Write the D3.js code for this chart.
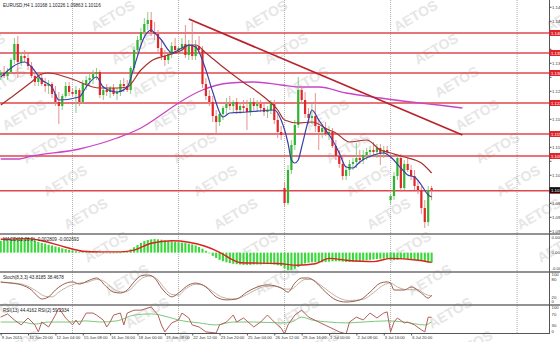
<!DOCTYPE html>
<html><head><meta charset="utf-8">
<script src="https://cdn.jsdelivr.net/npm/d3@7"></script>
<style>body{margin:0;background:#fff}svg{display:block;font-family:"Liberation Sans",Arial,sans-serif}</style>
</head><body>
<svg id="c" width="560" height="342"></svg>
<script>
// ---------------- DATA ----------------
const titleText = "EURUSD,H4  1.10168 1.10226 1.09863 1.10116";
const macdLabel = "MACD(12,26,9) -0.002809 -0.002693";
const stochLabel = "Stoch(8,3,3) 43.8185 38.4678";
const rsiLabel = "RSI(13) 44.4162  RSI(2) 59.2934";

const open = [1.12995,1.13045,1.12970,1.13070,1.13370,1.13770,1.13320,1.13470,1.13420,1.13220,
1.12970,1.12820,1.12920,1.12770,1.12720,1.12770,1.12520,1.12320,1.12220,1.12470,
1.12720,1.12570,1.12520,1.12620,1.12320,1.12770,1.12870,1.12920,1.13020,1.13070,
1.12495,1.12620,1.12570,1.12670,1.12520,1.12570,1.12770,1.12720,1.12620,1.13170,
1.13620,1.13870,1.14070,1.14270,1.14370,1.14070,1.14020,1.13670,1.13470,1.13370,
1.13520,1.13720,1.13620,1.13670,1.13770,1.13495,1.13745,1.13470,1.13720,1.13620,
1.12770,1.12470,1.12320,1.11970,1.11820,1.12020,1.12170,1.12270,1.12220,1.12320,
1.12120,1.12220,1.12170,1.12070,1.12320,1.12220,1.12270,1.12170,1.12070,1.12120,
1.12270,1.11870,1.11570,1.10170,1.09795,1.10620,1.11245,1.11745,1.12620,1.12370,
1.12020,1.11920,1.11970,1.11720,1.11570,1.11670,1.11520,1.11570,1.11220,1.10970,
1.10770,1.10470,1.10620,1.10770,1.10820,1.10920,1.10870,1.10995,1.11070,1.11120,
1.11070,1.11170,1.11045,1.11120,1.09870,1.09970,1.10470,1.10920,1.10170,1.10770,
1.10620,1.10470,1.10220,1.10120,1.09670,1.09320,1.10168];
const high = [1.13120,1.13220,1.13170,1.13420,1.13920,1.13970,1.13570,1.13620,1.13520,1.13320,
1.13070,1.13020,1.13070,1.12920,1.12870,1.12820,1.12720,1.12570,1.12520,1.12820,
1.12820,1.12670,1.12720,1.12670,1.12870,1.12970,1.13020,1.13120,1.13170,1.13120,
1.12720,1.12770,1.12720,1.12770,1.12670,1.12870,1.12920,1.12870,1.13220,1.13720,
1.13970,1.14170,1.14420,1.14570,1.14570,1.14320,1.14120,1.13870,1.13620,1.13570,
1.13820,1.13920,1.13720,1.13920,1.14245,1.13870,1.14320,1.13870,1.13970,1.13720,
1.12920,1.12620,1.12470,1.12120,1.12070,1.12220,1.12420,1.12470,1.12370,1.12420,
1.12320,1.12370,1.12370,1.12420,1.12420,1.12370,1.12370,1.12270,1.12220,1.12370,
1.12370,1.12020,1.11720,1.10320,1.10745,1.11370,1.11870,1.12945,1.12720,1.12570,
1.12170,1.12270,1.12545,1.11870,1.11770,1.11820,1.11720,1.11670,1.11370,1.11120,
1.10970,1.10720,1.10870,1.10920,1.11295,1.11120,1.11120,1.11170,1.11220,1.11320,
1.11270,1.11270,1.11220,1.11220,1.10020,1.10570,1.10995,1.11020,1.10870,1.10920,
1.10745,1.10620,1.10370,1.10220,1.09870,1.10220,1.10226];
const low = [1.12870,1.12920,1.12870,1.13020,1.13270,1.12920,1.13220,1.13320,1.13120,1.12920,
1.12720,1.12720,1.12720,1.12570,1.12520,1.12420,1.12220,1.11770,1.12120,1.12420,
1.12470,1.12470,1.12045,1.12220,1.12270,1.12620,1.12720,1.12770,1.12870,1.12420,
1.12370,1.12470,1.12420,1.12470,1.12370,1.12470,1.12570,1.12570,1.12520,1.13070,
1.13470,1.13720,1.13920,1.14120,1.13970,1.13870,1.13570,1.13370,1.13220,1.13270,
1.13420,1.13520,1.13520,1.13520,1.13420,1.13370,1.13370,1.13370,1.13520,1.12670,
1.12370,1.12220,1.11820,1.11545,1.11720,1.11870,1.12020,1.12120,1.12070,1.12020,
1.12020,1.12070,1.11620,1.11970,1.12120,1.12070,1.12070,1.11970,1.11920,1.12020,
1.11770,1.11420,1.11370,1.09695,1.09745,1.10520,1.11120,1.11670,1.12270,1.11920,
1.11770,1.11770,1.11570,1.11120,1.11420,1.11470,1.11370,1.11170,1.10870,1.10670,
1.10370,1.10370,1.10470,1.10620,1.10670,1.10770,1.10770,1.10870,1.10920,1.10970,
1.10920,1.10745,1.10920,1.10970,1.09770,1.09870,1.10370,1.10070,1.10120,1.10570,
1.10370,1.10120,1.10020,1.09520,1.09170,1.09220,1.09863];
const close = [1.13045,1.12970,1.13070,1.13370,1.13770,1.13320,1.13470,1.13420,1.13220,1.12970,
1.12820,1.12920,1.12770,1.12720,1.12770,1.12520,1.12320,1.12220,1.12470,1.12720,
1.12570,1.12520,1.12620,1.12320,1.12770,1.12870,1.12920,1.13020,1.13070,1.12495,
1.12620,1.12570,1.12670,1.12520,1.12570,1.12770,1.12720,1.12620,1.13170,1.13620,
1.13870,1.14070,1.14270,1.14370,1.14070,1.14020,1.13670,1.13470,1.13370,1.13520,
1.13720,1.13620,1.13670,1.13770,1.13495,1.13745,1.13470,1.13720,1.13620,1.12770,
1.12470,1.12320,1.11970,1.11820,1.12020,1.12170,1.12270,1.12220,1.12320,1.12120,
1.12220,1.12170,1.12070,1.12320,1.12220,1.12270,1.12170,1.12070,1.12120,1.12270,
1.11870,1.11570,1.11495,1.09795,1.10620,1.11245,1.11745,1.12620,1.12370,1.12020,
1.11920,1.11970,1.11720,1.11570,1.11670,1.11520,1.11570,1.11220,1.10970,1.10770,
1.10470,1.10620,1.10770,1.10820,1.10920,1.10870,1.10995,1.11070,1.11120,1.11070,
1.11170,1.11045,1.11120,1.11070,1.09970,1.10470,1.10920,1.10170,1.10770,1.10620,
1.10470,1.10220,1.10120,1.09670,1.09320,1.10120,1.10116];

// moving averages (bar index, price)
const maFastIdx = [0,7,9,12,15,17,23,25,28,30,34,37,39,42,44,45,47,49,50,53,55,57,60,62,65,67,72,80,82,84,85,86,87,88,90,91,93,95,97,99,101,103,105,109,112,114,117,119,121,123,125,126];
const maFast = [1.12945,1.13320,1.13195,1.12870,1.12695,1.12370,1.12445,1.12695,1.12945,1.12695,1.12570,1.12695,
1.13195,1.13945,1.14120,1.14045,1.13870,1.13620,1.13545,1.13670,1.13745,1.13695,1.13120,1.12570,
1.11945,1.12045,1.12070,1.12120,1.11870,1.11295,1.10870,1.10795,1.10870,1.11195,1.11870,1.12120,
1.11870,1.11620,1.11370,1.11045,1.10695,1.10670,1.10820,1.10995,1.11045,1.10945,1.10670,1.10495,
1.10445,1.10245,1.09995,1.09945];
const maSlowIdx = [0,4,9,12,14,20,29,34,37,41,44,49,53,55,57,60,65,70,77,81,83,87,91,96,98,102,107,111,114,118,123,126];
const maSlow = [1.12245,1.12495,1.12820,1.13020,1.13045,1.12920,1.12670,1.12670,1.12695,1.13120,1.13345,1.13495,
1.13620,1.13745,1.13745,1.13545,1.13195,1.12870,1.12445,1.12120,1.11870,1.11795,1.11820,1.11620,
1.11545,1.11320,1.11370,1.11120,1.11045,1.10945,1.10795,1.10545];
const maLongIdx = [0,5,9,23,34,41,49,52,59,67,74,82,88,93,101,111,120,128,135];
const maLong = [1.10895,1.10895,1.10970,1.11145,1.11420,1.11670,1.12120,1.12295,1.12620,1.12795,1.12820,1.12745,
1.12695,1.12695,1.12545,1.12420,1.12320,1.12245,1.12170];

// drawn objects
const levels = [1.14045,1.13545,1.13045,1.12295,1.11520,1.10970,1.10100];
const trendIdx = [55,135];
const trendPrice = [1.14395,1.11495];
const currentPrice = 1.10116;
const priceTicks = [1.1470,1.1435,1.1400,1.1365,1.1330,1.1295,1.1260,1.1225,1.1190,1.1155,1.1120,1.1085,1.1050,1.1015,1.0980,1.0945,1.0910];
const separatorIdx = [21,52,83,114,151];
const timeIdx = [0,8,16,24,32,40,48,56,64,72,80,88,96,104,112,120];
const timeLabels = ["9 Jun 2015","10 Jun 20:00","12 Jun 04:00","15 Jun 08:00","16 Jun 16:00","18 Jun 00:00","19 Jun 08:00","22 Jun 12:00","23 Jun 20:00","25 Jun 04:00","26 Jun 12:00","29 Jun 16:00","1 Jul 00:00","2 Jul 08:00","3 Jul 16:00","6 Jul 20:00"];

// MACD
const macdHist = [0.0033,0.0034,0.0035,
0.0037,0.0038,0.0039,0.0040,0.0040,0.0039,0.0038,
0.0034,0.0030,0.0027,0.0025,
0.0022,0.0020,0.0017,0.0015,0.0012,
0.0010,0.0008,0.0006,0.0004,0.0002,
0.0002,0.0003,0.0004,0.0004,0.0003,0.0001,0.0000,-0.0001,-0.0002,-0.0002,-0.0001,0.0000,0.0001,
0.0004,0.0009,0.0015,
0.0021,0.0027,0.0032,0.0035,0.0037,0.0038,0.0037,
0.0036,0.0034,0.0032,0.0031,0.0030,
0.0029,0.0028,0.0027,0.0025,0.0023,0.0020,0.0016,0.0011,0.0005,
-0.0002,-0.0009,-0.0015,-0.0020,-0.0024,-0.0027,-0.0029,
-0.0031,-0.0032,-0.0033,-0.0034,-0.0034,-0.0034,-0.0033,-0.0033,-0.0033,-0.0032,-0.0032,-0.0032,-0.0033,-0.0035,
-0.0037,-0.0044,-0.0049,-0.0048,-0.0045,
-0.0040,-0.0034,-0.0030,-0.0028,-0.0027,-0.0027,-0.0027,-0.0027,-0.0026,-0.0025,
-0.0024,-0.0024,-0.0024,-0.0025,-0.0026,-0.0026,-0.0025,-0.0024,-0.0023,-0.0022,-0.0021,-0.0020,-0.0019,-0.0018,-0.0017,-0.0017,-0.0017,
-0.0020,-0.0021,-0.0020,-0.0018,-0.0018,-0.0018,-0.0019,-0.0020,-0.0021,-0.0023,-0.0025,-0.0027,-0.0028];
const macdSigIdx = [0,8,13,19,24,29,35,39,44,50,55,60,64,68,70,81,87,92,96,101,109,114,122,126];
const macdSig = [0.0037,0.0039,0.0031,0.0015,0.0004,0.0002,0.0002,0.0007,0.0026,0.0033,0.0029,0.0017,0.0001,-0.0021,-0.0028,-0.0030,-0.0035,-0.0031,-0.0016,-0.0021,-0.0025,-0.0016,-0.0021,-0.0027];
const macdTicks = ["0.004900","0.00","-0.005100"];

// Stochastic
const stMainIdx = [0,3,6,9,11,12,14,16,18,21,23,26,28,31,33,35,37,39,41,43,45,47,49,50,52,55,57,60,63,66,69,72,75,78,82,84,86,88,90,92,95,98,101,105,108,111,113,114,115,118,120,123,125,126];
const stMain = [72,68,62,45,22,15,22,45,62,72,65,78,85,55,38,35,45,72,92,95,85,52,28,22,35,62,68,55,22,12,15,38,55,62,52,38,68,85,85,72,38,12,5,12,38,68,72,68,45,45,55,35,18,28];
const stSigIdx = [0,4,7,10,13,15,17,20,23,25,28,30,32,34,36,38,40,42,44,46,48,50,52,54,57,59,62,65,68,71,74,77,80,83,85,87,89,91,93,96,99,102,106,109,112,114,116,119,122,124,126];
const stSig = [70,68,62,45,24,22,38,58,68,70,80,75,58,42,38,48,72,88,92,78,50,30,28,48,64,62,40,20,15,24,42,56,58,48,48,66,80,80,66,40,18,10,14,36,62,68,55,46,46,32,24];

// RSI
const rsiFastIdx = [0,2,4,6,8,10,11,12,14,16,17,19,21,22,23,25,27,28,30,31,32,33,35,36,37,39,41,43,44,46,47,48,50,52,53,55,56,58,60,63,64,66,68,69,71,74,76,78,80,82,83,84,86,88,90,93,96,99,101,102,104,106,108,110,112,113,114,115,116,118,119,121,123,124,125,126];
const rsiFast = [60,71,50,33,57,33,9,43,26,67,91,57,33,50,33,74,74,67,50,26,43,67,74,33,74,84,84,91,95,67,33,9,40,50,74,57,33,26,9,5,33,43,67,43,57,26,43,67,43,22,2,33,67,84,60,43,26,9,2,43,60,50,74,57,74,78,9,43,57,40,43,33,16,9,60,59];
const rsiSlowIdx = [0,6,10,14,20,25,29,34,39,44,49,52,58,63,68,74,82,85,88,91,96,101,106,113,118,124,126];
const rsiSlow = [43,43,36,43,43,47,43,47,67,71,60,50,40,33,43,43,40,43,60,50,43,40,43,47,43,33,44];

// ---------------- DRAW ----------------
const FONT = "Liberation Sans, Arial, sans-serif";
const svg = d3.select("#c");
const R = 549;
const x = d3.scaleLinear().domain([0, 160]).range([0.7, 0.7 + 3.42 * 160]);
const yMain = d3.scaleLinear().domain([1.0902, 1.1487]).range([234, 0]);
const yMacd = d3.scaleLinear().domain([-0.0051, 0.0049]).range([271, 235]);
const ySto = d3.scaleLinear().domain([0, 100]).range([303.5, 273.5]);
const yRsi = d3.scaleLinear().domain([0, 100]).range([334.5, 305.5]);

svg.append("rect").attr("width", 560).attr("height", 342).attr("fill", "#fff");

const defs = svg.append("defs");
function clip(id, y0, h) {
  defs.append("clipPath").attr("id", id).append("rect").attr("x", 0).attr("y", y0).attr("width", R).attr("height", h);
  return "url(#" + id + ")";
}
const cMain = clip("cm", 0, 233.5), cMacd = clip("cmacd", 235, 36.5), cSto = clip("cst", 273, 31.3), cRsi = clip("crsi", 306, 27.5);
defs.append("clipPath").attr("id", "call").append("rect").attr("width", 560).attr("height", 342);

// watermark
const wm = svg.append("g").attr("clip-path", "url(#call)").attr("fill", "#e6e6e6").attr("font-weight", "bold").attr("font-size", 14)
  .attr("font-family", FONT).attr("text-anchor", "middle");
[-185, -35, 115, 268, 418, 570].forEach(c0 => {
  for (let k = -2; k <= 10; k++) {
    const cx = c0 + 20.5 * k, cy = 15 + 33 * k;
    if (cx < -40 || cx > 600 || cy < -20 || cy > 360) continue;
    wm.append("text").attr("transform", `translate(${cx},${cy + 5}) rotate(-30)`).text("AETOS");
  }
});

// grid separators
svg.append("g").selectAll("line").data(separatorIdx).join("line")
  .attr("x1", d => x(d)).attr("x2", d => x(d)).attr("y1", 0).attr("y2", 333.5)
  .attr("stroke", "#9a9a9a").attr("stroke-width", 0.8).attr("stroke-dasharray", "1,1");

// main panel
const gm = svg.append("g").attr("clip-path", cMain);
gm.selectAll("line.lv").data(levels).join("line").attr("class", "lv")
  .attr("x1", 0).attr("x2", R).attr("y1", d => yMain(d)).attr("y2", d => yMain(d))
  .attr("stroke", "#e0474c").attr("stroke-width", 1.6);

const lineGen = (xs, ys, yS, curve) => d3.line().x((d, i) => x(xs[i])).y((d, i) => yS(ys[i])).curve(curve)(ys);

gm.append("path").attr("d", lineGen(maLongIdx, maLong, yMain, d3.curveMonotoneX))
  .attr("fill", "none").attr("stroke", "#c845c8").attr("stroke-width", 1.3);

const bars = d3.range(open.length);
const up = i => close[i] >= open[i];
gm.selectAll("line.wk").data(bars).join("line").attr("class", "wk")
  .attr("x1", i => x(i)).attr("x2", i => x(i)).attr("y1", i => yMain(high[i])).attr("y2", i => yMain(low[i]))
  .attr("stroke", i => up(i) ? "#7cc77c" : "#e58585").attr("stroke-width", 0.9);
gm.selectAll("rect.bd").data(bars).join("rect").attr("class", "bd")
  .attr("x", i => x(i) - 1.1).attr("width", 2.2)
  .attr("y", i => yMain(Math.max(open[i], close[i])))
  .attr("height", i => Math.max(0.8, Math.abs(yMain(open[i]) - yMain(close[i]))))
  .attr("fill", i => up(i) ? "#2fb52f" : "#e3262a");

gm.append("path").attr("d", lineGen(maSlowIdx, maSlow, yMain, d3.curveMonotoneX))
  .attr("fill", "none").attr("stroke", "#a8302c").attr("stroke-width", 1.2);
gm.append("path").attr("d", lineGen(maFastIdx, maFast, yMain, d3.curveMonotoneX))
  .attr("fill", "none").attr("stroke", "#3b3fa8").attr("stroke-width", 1.2);

gm.append("line").attr("x1", x(trendIdx[0])).attr("y1", yMain(trendPrice[0]))
  .attr("x2", x(trendIdx[1])).attr("y2", yMain(trendPrice[1]))
  .attr("stroke", "#b8232a").attr("stroke-width", 1.8);

// title
svg.append("text").attr("x", 3).attr("y", 6.5).attr("font-size", 4.6).attr("font-family", FONT).attr("fill", "#222").text(titleText);

// MACD panel
const gmac = svg.append("g").attr("clip-path", cMacd);
gmac.selectAll("rect").data(macdHist).join("rect")
  .attr("x", (d, i) => x(i) - 1.05).attr("width", 2.1)
  .attr("y", d => Math.min(yMacd(d), yMacd(0))).attr("height", d => Math.max(0.6, Math.abs(yMacd(d) - yMacd(0))))
  .attr("fill", "#3bd83b");
gmac.append("path").attr("d", lineGen(macdSigIdx, macdSig, yMacd, d3.curveMonotoneX))
  .attr("fill", "none").attr("stroke", "#dd2020").attr("stroke-width", 1.4);
svg.append("text").attr("x", 3).attr("y", 240.5).attr("font-size", 4.6).attr("font-family", FONT).attr("fill", "#222").text(macdLabel);

// Stoch panel
const gst = svg.append("g").attr("clip-path", cSto);
gst.append("path").attr("d", lineGen(stSigIdx, stSig, ySto, d3.curveMonotoneX))
  .attr("fill", "none").attr("stroke", "#bdb3a4").attr("stroke-width", 1);
gst.append("path").attr("d", lineGen(stMainIdx, stMain, ySto, d3.curveMonotoneX))
  .attr("fill", "none").attr("stroke", "#9e5b4e").attr("stroke-width", 1);
svg.append("text").attr("x", 3).attr("y", 278.5).attr("font-size", 4.6).attr("font-family", FONT).attr("fill", "#222").text(stochLabel);

// RSI panel
const grs = svg.append("g").attr("clip-path", cRsi);
grs.append("path").attr("d", lineGen(rsiSlowIdx, rsiSlow, yRsi, d3.curveMonotoneX))
  .attr("fill", "none").attr("stroke", "#7cc77c").attr("stroke-width", 1);
grs.append("path").attr("d", lineGen(rsiFastIdx, rsiFast, yRsi, d3.curveLinear))
  .attr("fill", "none").attr("stroke", "#b0605a").attr("stroke-width", 1);
svg.append("text").attr("x", 3).attr("y", 311.5).attr("font-size", 4.6).attr("font-family", FONT).attr("fill", "#222").text(rsiLabel);

// panel separators & frame
[234, 272, 305].forEach(yy => svg.append("line").attr("x1", 0).attr("x2", 560).attr("y1", yy).attr("y2", yy)
  .attr("stroke", "#6e6e6e").attr("stroke-width", 1.5));
svg.append("line").attr("x1", R + 0.5).attr("x2", R + 0.5).attr("y1", 0).attr("y2", 334).attr("stroke", "#555").attr("stroke-width", 1);
svg.append("line").attr("x1", 0).attr("x2", R + 0.5).attr("y1", 333.5).attr("y2", 333.5).attr("stroke", "#555").attr("stroke-width", 1);

// right price axis (tick labels hidden where a level label sits)
const tagged = levels.concat([currentPrice]).map(v => yMain(v));
const ax = svg.append("g").attr("transform", `translate(${R + 0.5},0)`)
  .call(d3.axisRight(yMain).tickValues(priceTicks).tickFormat(d3.format(".5f")).tickSize(2));
ax.select(".domain").remove();
ax.selectAll("text").attr("font-size", 4.3).attr("fill", "#333").attr("x", 2.5).attr("font-family", FONT)
  .attr("display", d => tagged.some(t => Math.abs(t - yMain(d)) < 5) ? "none" : null);
ax.selectAll("line").attr("stroke", "#555");

const lab = svg.append("g").attr("font-size", 4.3).attr("font-family", FONT);
levels.forEach(v => {
  lab.append("rect").attr("x", R + 0.5).attr("y", yMain(v) - 3).attr("width", 11).attr("height", 6).attr("fill", "#e0262c");
  lab.append("text").attr("x", R + 2).attr("y", yMain(v) + 1.6).attr("fill", "#fff").text(v.toFixed(5));
});
lab.append("rect").attr("x", R + 0.5).attr("y", yMain(currentPrice) - 3).attr("width", 11).attr("height", 6).attr("fill", "#111");
lab.append("text").attr("x", R + 2).attr("y", yMain(currentPrice) + 1.6).attr("fill", "#fff").text(currentPrice.toFixed(5));

// indicator axes labels
const ia = svg.append("g").attr("font-size", 4.3).attr("fill", "#333").attr("font-family", FONT);
[[yMacd(0.0049) + 3.5, macdTicks[0]], [yMacd(0) + 1.6, macdTicks[1]], [yMacd(-0.0051) - 1, macdTicks[2]]]
  .forEach(d => ia.append("text").attr("x", R + 2.5).attr("y", d[0]).text(d[1]));
[[100, 2.8], [80, 1.6], [20, 1.6], [0, -0.5]].forEach(d => ia.append("text").attr("x", R + 2.5).attr("y", ySto(d[0]) + d[1]).text(d[0]));
[[100, 3.4], [70, 1.6], [30, 1.6], [0, -1.2]].forEach(d => ia.append("text").attr("x", R + 2.5).attr("y", yRsi(d[0]) + d[1]).text(d[0]));

// time axis
const tx = svg.append("g").attr("transform", "translate(0,333.5)")
  .call(d3.axisBottom(x).tickValues(timeIdx).tickFormat((d, i) => timeLabels[i]).tickSize(2));
tx.select(".domain").remove();
tx.selectAll("line").attr("stroke", "#555");
tx.selectAll("text").attr("font-size", 4.1).attr("fill", "#333").attr("text-anchor", "start")
  .attr("dx", 0.6).attr("y", 2.6).attr("font-family", FONT);
</script>
</body></html>
